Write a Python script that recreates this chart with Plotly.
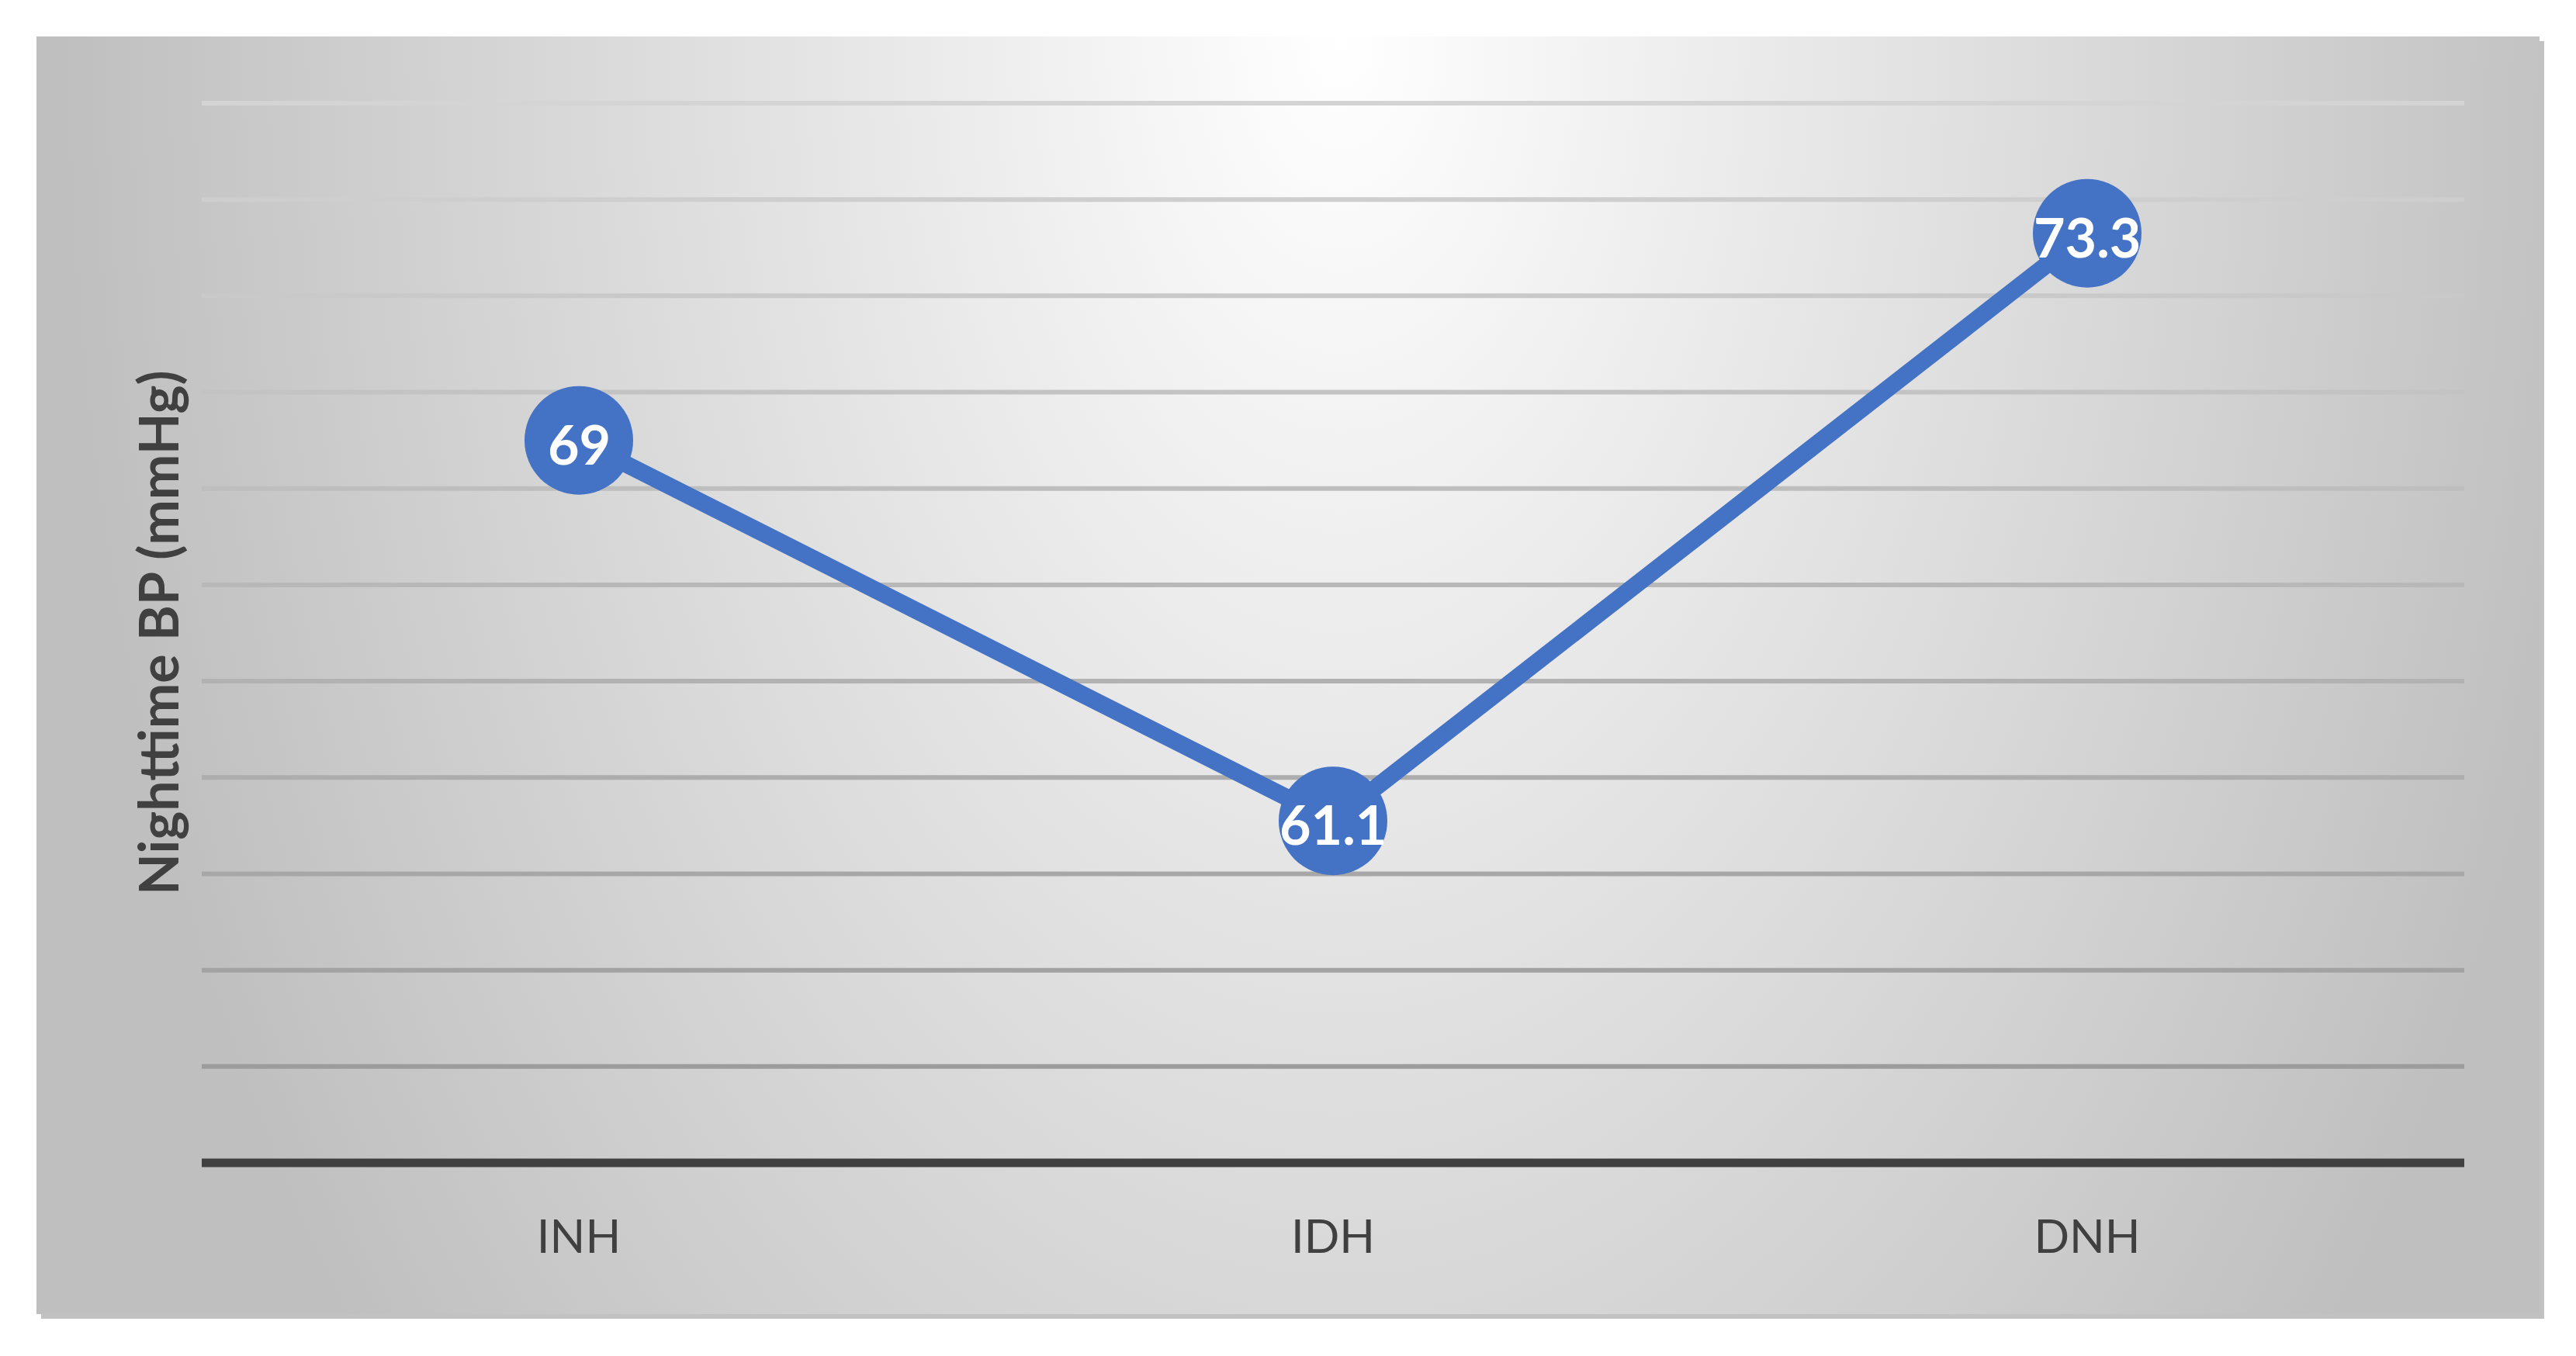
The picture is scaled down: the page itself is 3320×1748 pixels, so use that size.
import base64
import plotly.graph_objects as go

groups = ["INH", "IDH", "DNH"]
night_bp = [69, 61.1, 73.3]
labels = ["69", "61.1", "73.3"]

y_min, y_max, y_step = 54, 76, 2
grid_vals = list(range(y_min + y_step, y_max + 1, y_step))

# the page body has an 8px margin, so the figure is a bit smaller than the window
OFF = 8
W, H = 3320 - 2 * OFF, 1748 - 2 * OFF
# target pixel spots of y_max and y_min, padded so the lines there are not clipped
top_px, bot_px, pad_px = 133, 1499, 20
unit = (bot_px - top_px) / (y_max - y_min)
y_range = [y_min - pad_px / unit, y_max + pad_px / unit]
L, R = 260 - OFF, 3176 - OFF
T, B = top_px - pad_px - OFF, bot_px + pad_px - OFF
plot_w, plot_h = R - L, B - T

def to_px(x):
    return (x - L) / plot_w

def to_py(y):
    return (B - y) / plot_h

# grey gradient panel (plus a small drop shadow) drawn as an svg picture
px0, py0, px1, py1 = 47 - OFF, 47 - OFF, 3273 - OFF, 1694 - OFF
sh = 6
pw, ph = px1 - px0, py1 - py0
svg = f"""<svg xmlns="http://www.w3.org/2000/svg" width="{pw + sh}" height="{ph + sh}" viewBox="0 0 {pw + sh} {ph + sh}" preserveAspectRatio="none">
<defs><radialGradient id="g" gradientUnits="userSpaceOnUse" cx="0" cy="0" r="1"
 gradientTransform="translate(1680 0) scale(1650 2650)">
<stop offset="0" stop-color="#ffffff"/>
<stop offset="1" stop-color="#bfbfbf"/>
</radialGradient></defs>
<rect x="{sh}" y="{sh}" width="{pw}" height="{ph}" fill="#c2c2c2"/>
<rect x="0" y="0" width="{pw}" height="{ph}" fill="url(#g)"/>
</svg>"""
bg_src = "data:image/svg+xml;base64," + base64.b64encode(svg.encode()).decode()

fig = go.Figure()

fig.add_trace(go.Scatter(
    x=groups, y=night_bp,
    mode="lines+markers",
    line=dict(color="#4472C4", width=22),
    marker=dict(size=140, color="#4472C4", line=dict(width=0)),
    cliponaxis=False,
    showlegend=False,
    hoverinfo="skip",
))

# value labels sit inside the markers
annotations = [dict(x=g, y=v, text=t, xref="x", yref="y", showarrow=False,
                    xanchor="center", yanchor="middle", yshift=-4,
                    font=dict(family="Lato", size=70, color="white", weight="bold"))
               for g, v, t in zip(groups, night_bp, labels)]
annotations.append(dict(text="Nighttime BP (mmHg)", textangle=-90,
                        xref="paper", yref="paper",
                        x=to_px(203 - OFF), y=to_py((top_px + bot_px) / 2 - OFF),
                        xanchor="center", yanchor="middle", showarrow=False,
                        font=dict(family="Lato", size=70, color="#404040", weight="bold")))

# gridlines darken towards the bottom
def grey(i, n):
    v = int(round(212 - (212 - 156) * i / max(n - 1, 1)))
    return f"rgb({v},{v},{v})"

shapes = []
rev = sorted(grid_vals, reverse=True)
for i, v in enumerate(rev):
    shapes.append(dict(type="line", xref="x domain", yref="y", layer="below",
                       x0=0, x1=1, y0=v, y1=v,
                       line=dict(color=grey(i, len(rev)), width=6)))
shapes.append(dict(type="line", xref="x domain", yref="y", layer="above",
                   x0=0, x1=1, y0=y_min, y1=y_min,
                   line=dict(color="#404040", width=11)))

fig.update_layout(
    width=W, height=H,
    paper_bgcolor="white",
    plot_bgcolor="rgba(0,0,0,0)",
    margin=dict(l=L, r=W - R, t=T, b=H - B, pad=0),
    shapes=shapes,
    annotations=annotations,
    images=[dict(source=bg_src, xref="paper", yref="paper",
                 x=to_px(px0), y=to_py(py0),
                 sizex=(pw + sh) / plot_w, sizey=(ph + sh) / plot_h,
                 xanchor="left", yanchor="top", sizing="stretch", layer="below")],
    xaxis=dict(range=[-0.5, 2.5], showgrid=False, zeroline=False, showline=False,
               ticks="", ticklabelstandoff=55 - pad_px,
               tickfont=dict(family="Lato", size=60, color="#404040")),
    yaxis=dict(range=y_range, showgrid=False, zeroline=False,
               showline=False, showticklabels=False, ticks=""),
)

fig.write_html("out.html")
